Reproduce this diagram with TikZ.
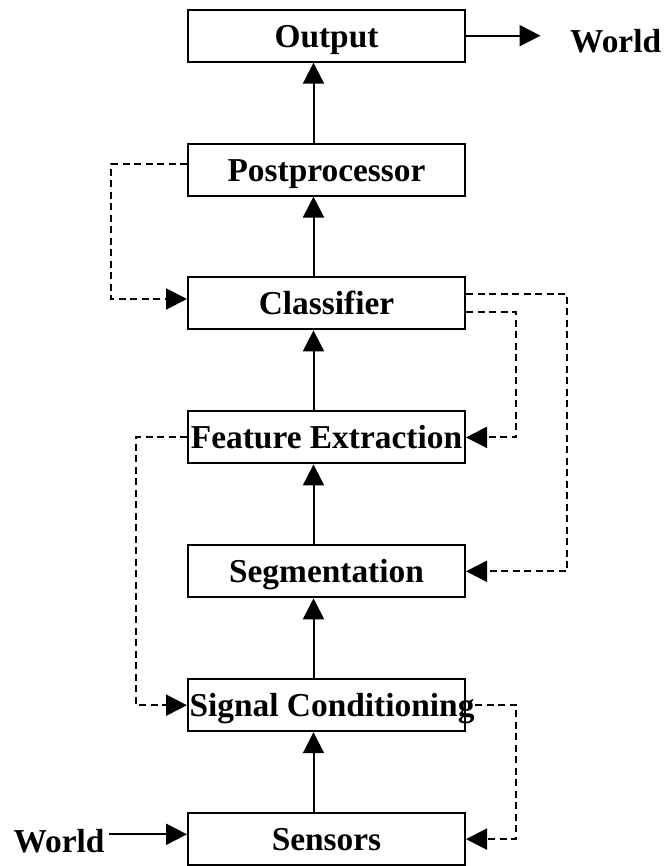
\documentclass[tikz,border=0pt]{standalone}
\usepackage{fontspec}
\setmainfont{Liberation Serif}
\usetikzlibrary{arrows.meta}
\begin{document}
\begin{tikzpicture}[x=1pt,y=-1pt,
  txt/.style={inner sep=0pt, text height=23pt, text depth=0pt, font=\fontsize{33.4}{40}\selectfont\bfseries},
  box/.style={txt, draw, line width=2pt, minimum width=277pt, minimum height=52pt},
  arr/.style={line width=2pt, -{Triangle[length=21pt,width=21pt]}},
  fb/.style={arr, dash pattern=on 7pt off 4.5pt}
]
\path[use as bounding box] (0,0) rectangle (665,866);

\node[box] (out) at (326.5,35.7) {Output};
\node[box] (pp)  at (326.5,169.6) {Postprocessor};
\node[box] (cl)  at (326.5,303.4) {Classifier};
\node[box] (fe)  at (326.5,437.4) {Feature Extraction};
\node[box] (seg) at (326.5,571.3) {Segmentation};
\node[box] (sc)  at (326.5,705.2) {\makebox[0pt]{\hspace{11pt}Signal Conditioning}};
\node[box] (sen) at (326.5,839.1) {Sensors};

\node[txt, anchor=base west] (wout) at (570,53) {World};
\node[txt, anchor=base west] (win) at (13.3,852.3) {World};

% forward path
\draw[arr] ([xshift=-13pt]sen.north) -- ([xshift=-13pt]sc.south);
\draw[arr] ([xshift=-13pt]sc.north) -- ([xshift=-13pt]seg.south);
\draw[arr] ([xshift=-13pt]seg.north) -- ([xshift=-13pt]fe.south);
\draw[arr] ([xshift=-13pt]fe.north) -- ([xshift=-13pt]cl.south);
\draw[arr] ([xshift=-13pt]cl.north) -- ([xshift=-13pt]pp.south);
\draw[arr] ([xshift=-13pt]pp.north) -- ([xshift=-13pt]out.north |- out.south);

% world connections
\draw[arr, shorten >=29.5pt] (out.east) -- (out.east -| wout.west);
\draw[arr] ([xshift=4.5pt,yshift=6.5pt]win.east) -- ([yshift=4.8pt]sen.west);

% feedback paths
\draw[fb] ([yshift=5.2pt]pp.west) -- ++(-76,0) |- ([yshift=4.4pt]cl.west);
\draw[fb] ([yshift=9.4pt]cl.east) -- ++(101,0) |- (seg.east);
\draw[fb] ([yshift=-8.9pt]cl.east) -- ++(50,0) |- (fe.east);
\draw[fb] (fe.west) -- ++(-51,0) |- (sc.west);
\draw[fb] ([xshift=9pt]sc.east) -- ++(41,0) |- (sen.east);
\end{tikzpicture}
\end{document}
